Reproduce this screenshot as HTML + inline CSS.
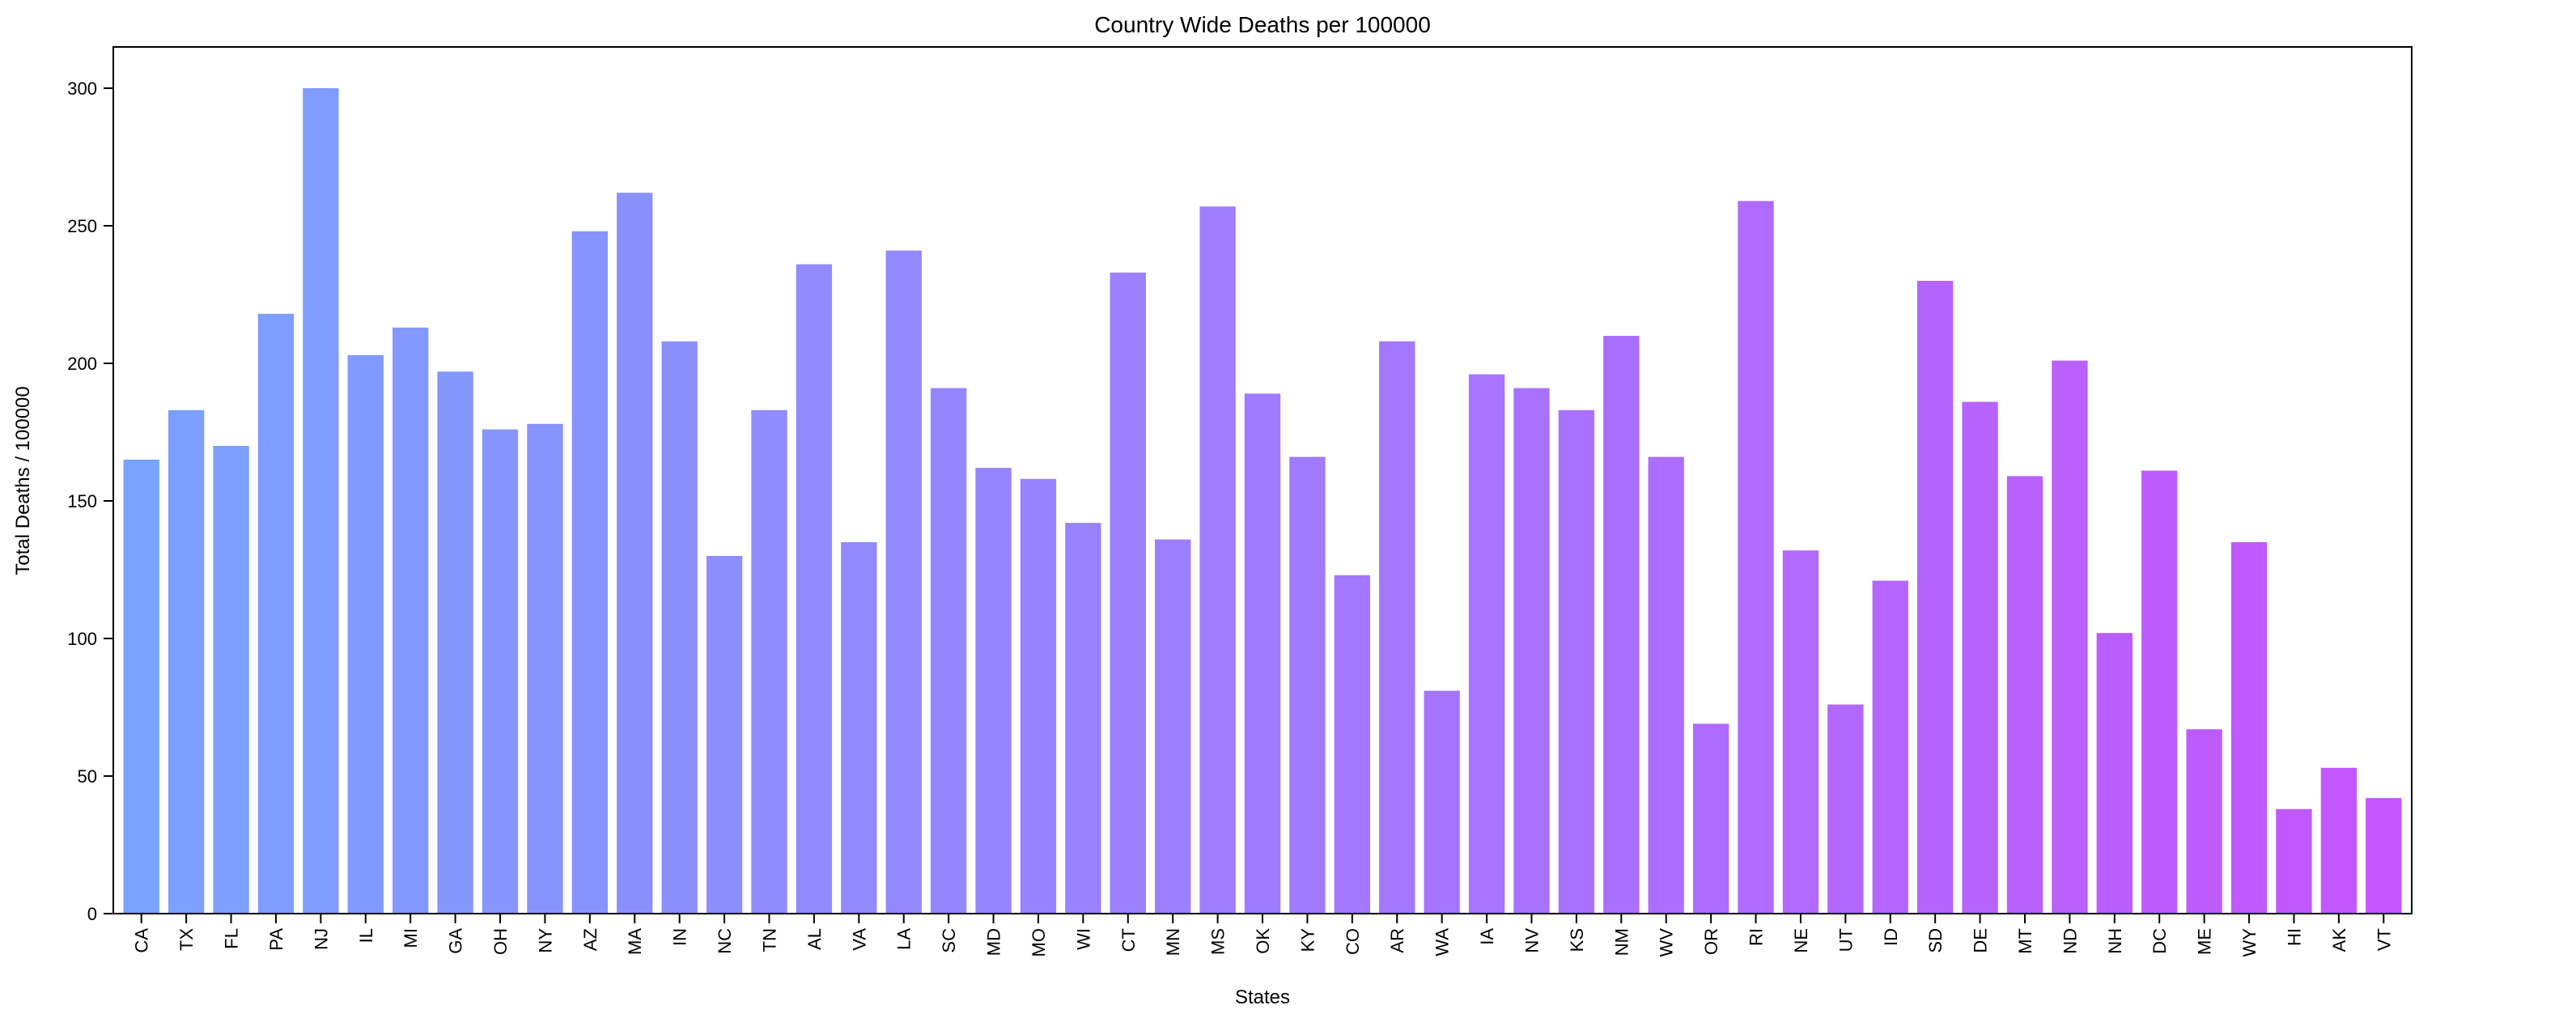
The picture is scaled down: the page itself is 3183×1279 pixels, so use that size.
<!DOCTYPE html>
<html><head><meta charset="utf-8"><style>
html,body{margin:0;padding:0;background:#fff;}
svg{display:block;font-family:"Liberation Sans","DejaVu Sans",sans-serif;}
</style></head><body>
<svg id="chart" width="3183" height="1279" xmlns="http://www.w3.org/2000/svg">
<rect width="3183" height="1279" fill="#fff"/>
<text x="1560" y="40" font-size="28" text-anchor="middle" fill="#000">Country Wide Deaths per 100000</text>
<g id="bars"></g>
<g id="yaxis"></g>
<g id="xaxis"></g>
<rect x="140" y="58" width="2840" height="1071" fill="none" stroke="#000" stroke-width="2"/>
<text transform="translate(36,594) rotate(-90)" font-size="24" text-anchor="middle" fill="#000">Total Deaths / 100000</text>
<text x="1560" y="1240" font-size="24" text-anchor="middle" fill="#000">States</text>
</svg>
<script>
const states = ["CA","TX","FL","PA","NJ","IL","MI","GA","OH","NY","AZ","MA","IN","NC","TN","AL","VA","LA","SC","MD","MO","WI","CT","MN","MS","OK","KY","CO","AR","WA","IA","NV","KS","NM","WV","OR","RI","NE","UT","ID","SD","DE","MT","ND","NH","DC","ME","WY","HI","AK","VT"];
const deaths = [165,183,170,218,300,203,213,197,176,178,248,262,208,130,183,236,135,241,191,162,158,142,233,136,257,189,166,123,208,81,196,191,183,210,166,69,259,132,76,121,230,186,159,201,102,161,67,135,38,53,42];
const yTicks = [0,50,100,150,200,250,300];

const NS="http://www.w3.org/2000/svg";
const y0=1129, y300=109;
function yScale(v){return y0+(y300-y0)*v/300;}
const bandL=147, bandR=2973;
const step=(bandR-bandL)/states.length;
function xCenter(i){return bandL+step*(i+0.5);}
const c0=[122,162,255], c1=[196,85,255];
function color(i){const t=i/(states.length-1);return "rgb("+c0.map((c,k)=>Math.round(c+(c1[k]-c)*t)).join(",")+")";}

const bars=document.getElementById('bars');
const xa=document.getElementById('xaxis');
states.forEach((s,i)=>{
  const w=step*0.8, cx=xCenter(i), top=yScale(deaths[i]);
  const r=document.createElementNS(NS,'rect');
  
  
  r.setAttribute('x',cx-w/2);r.setAttribute('y',top);
  r.setAttribute('width',w);r.setAttribute('height',y0-top);
  r.setAttribute('fill',color(i));
  bars.appendChild(r);
  const t=document.createElementNS(NS,'line');
  
  
  t.setAttribute('x1',cx);t.setAttribute('x2',cx);t.setAttribute('y1',y0);t.setAttribute('y2',y0+12);
  t.setAttribute('stroke','#000');t.setAttribute('stroke-width','2');
  xa.appendChild(t);
  const l=document.createElementNS(NS,'text');
  
  
  l.setAttribute('transform','translate('+(cx+8)+','+(y0+18)+') rotate(-90)');
  l.setAttribute('text-anchor','end');l.setAttribute('font-size','22');
  l.textContent=s;
  xa.appendChild(l);
});
const ya=document.getElementById('yaxis');
yTicks.forEach(v=>{
  const y=yScale(v);
  const t=document.createElementNS(NS,'line');
  
  
  t.setAttribute('x1',128);t.setAttribute('x2',140);t.setAttribute('y1',y);t.setAttribute('y2',y);
  t.setAttribute('stroke','#000');t.setAttribute('stroke-width','2');
  ya.appendChild(t);
  const l=document.createElementNS(NS,'text');
  
  
  l.setAttribute('x',120);l.setAttribute('y',y+8);
  l.setAttribute('text-anchor','end');l.setAttribute('font-size','22');
  l.textContent=v;
  ya.appendChild(l);
});
</script>
</body></html>
